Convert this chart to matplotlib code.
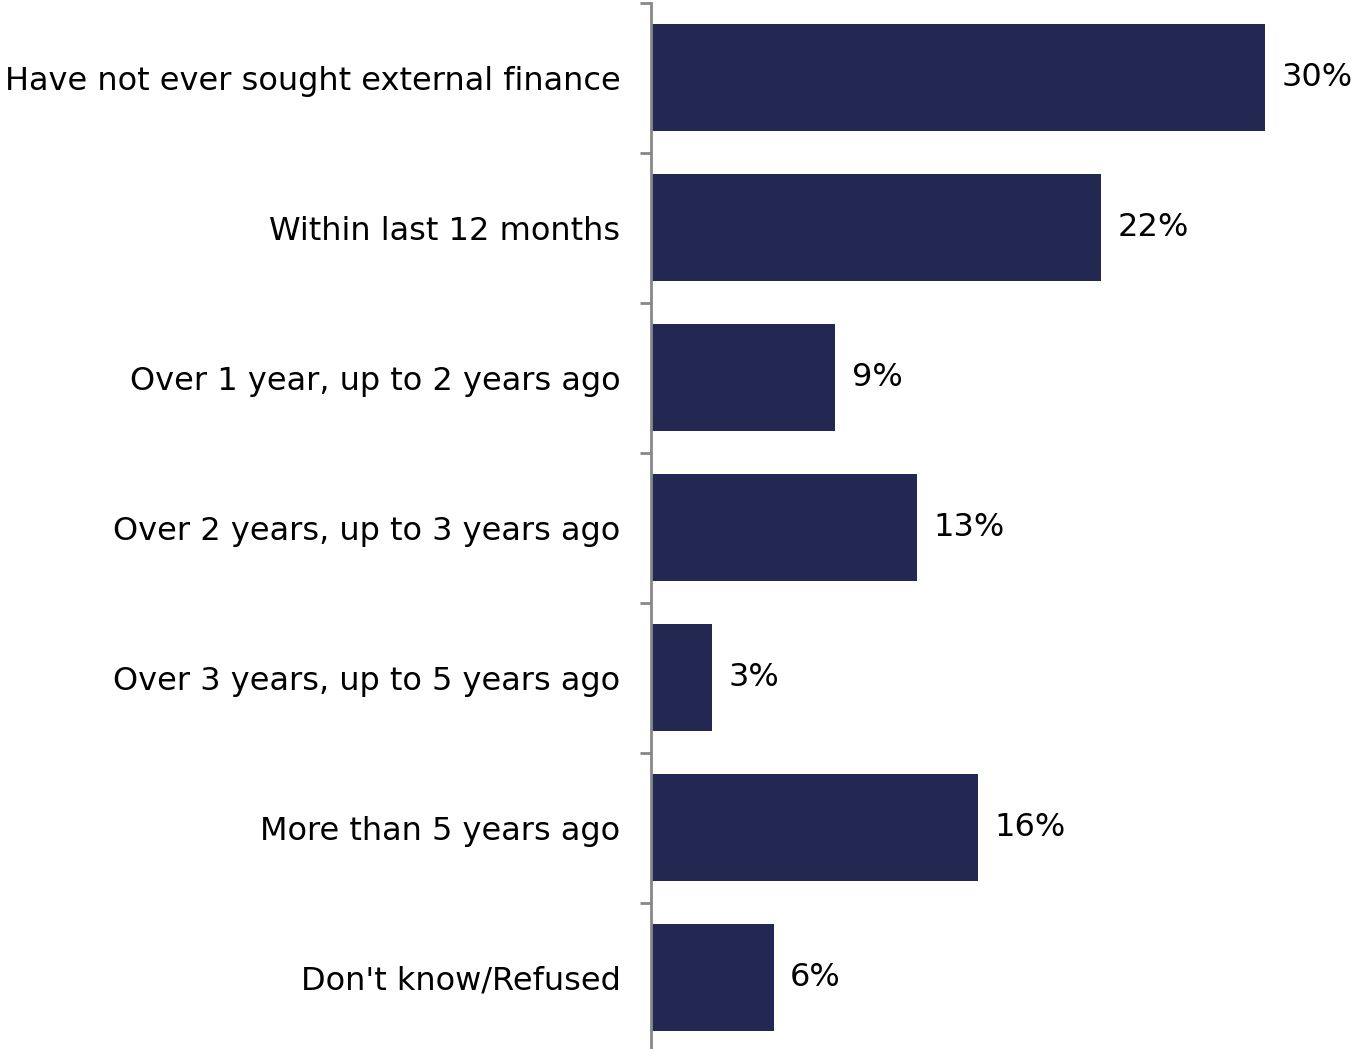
import matplotlib.pyplot as plt

categories = [
    "Have not ever sought external finance",
    "Within last 12 months",
    "Over 1 year, up to 2 years ago",
    "Over 2 years, up to 3 years ago",
    "Over 3 years, up to 5 years ago",
    "More than 5 years ago",
    "Don't know/Refused",
]
values = [30, 22, 9, 13, 3, 16, 6]

BAR_COLOR = "#222851"
AXIS_COLOR = "#888888"


def main():
    fig = plt.figure(figsize=(13.55, 10.49), dpi=100)
    # axes placed so each category band is 150 px tall
    left = 651 / 1355
    right = 1265 / 1355
    bottom = -3.5 / 1049
    top = 1046.5 / 1049
    ax = fig.add_axes([left, bottom, right - left, top - bottom])

    y = list(range(len(categories)))
    ax.barh(y, values, height=0.71, color=BAR_COLOR, zorder=2)
    ax.set_xlim(0, 30)
    ax.set_ylim(len(categories) - 0.5, -0.5)

    for yi, v in zip(y, values):
        ax.text(v + 0.8, yi, f"{v}%", va="center", ha="left", fontsize=23)

    ax.set_yticks(y)
    ax.set_yticklabels(categories, fontsize=23)
    ax.tick_params(axis="y", which="major", length=0, pad=22)
    ax.set_yticks([i - 0.5 for i in range(len(categories) + 1)], minor=True)
    ax.tick_params(axis="y", which="minor", length=8, width=2, color=AXIS_COLOR)
    ax.set_xticks([])

    for side in ("top", "right", "bottom"):
        ax.spines[side].set_visible(False)
    ax.spines["left"].set_color(AXIS_COLOR)
    ax.spines["left"].set_linewidth(2)

    fig.savefig("out.png", dpi=100)


if __name__ == "__main__":
    main()
